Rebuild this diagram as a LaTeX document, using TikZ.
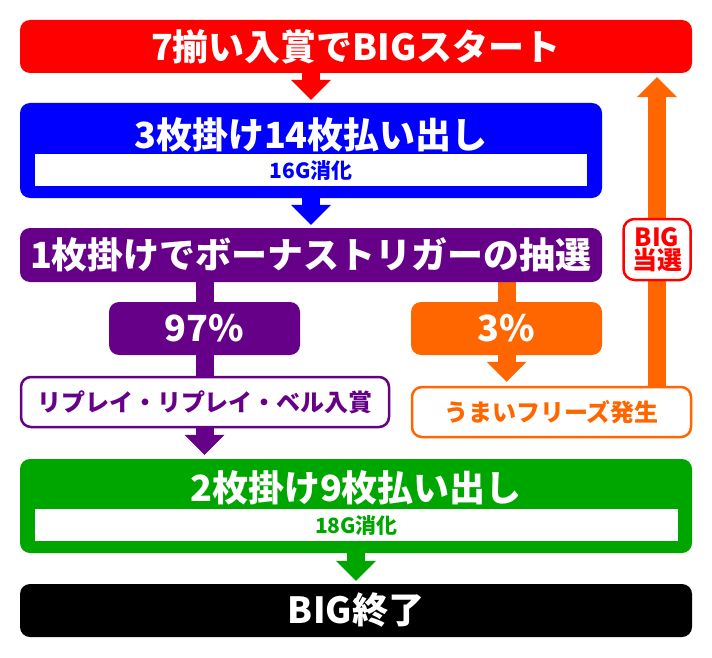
\documentclass[tikz,border=0pt]{standalone}
\usepackage{fontspec}
\setmainfont{Noto Sans CJK JP}
\usetikzlibrary{arrows.meta,backgrounds}
\definecolor{cred}{RGB}{255,0,0}
\definecolor{cblue}{RGB}{0,0,255}
\definecolor{cpurple}{RGB}{102,0,136}
\definecolor{corange}{RGB}{255,102,0}
\definecolor{cgreen}{RGB}{0,166,0}
\begin{document}
\begin{tikzpicture}[x=1pt,y=-1pt,
  box/.style={rounded corners=10pt, inner sep=0pt, text=white,
    font=\bfseries\fontsize{36}{36}\selectfont},
  title/.style={inner sep=0pt, text=white, font=\bfseries\fontsize{36}{36}\selectfont},
  inner/.style={fill=white, inner sep=0pt, font=\bfseries\fontsize{21}{21}\selectfont},
  outl/.style={fill=white, rounded corners=10pt, line width=2.5pt, inner sep=0pt,
    font=\bfseries\fontsize{24}{24}\selectfont},
  fat/.style={line width=18pt, -{Triangle[width=40pt,length=20pt,line width=0pt]}},
  stem/.style={line width=18pt}]
\useasboundingbox (0,0) rectangle (712,658);
% boxes
\node[box, fill=cred, minimum width=672pt, minimum height=53pt] (start) at (356,46.5) {7揃い入賞でBIGスタート};
\node[box, fill=cblue, minimum width=582pt, minimum height=95pt] (blue) at (311,150.5) {};
\node[title] (bluet) at (311,135) {3枚掛け14枚払い出し};
\node[inner, text=cblue, minimum width=552pt, minimum height=32pt] (bluew) at (311,170) {16G消化};
\node[box, fill=cpurple, minimum width=582pt, minimum height=54pt] (lot) at (311,255) {1枚掛けでボーナストリガーの抽選};
\node[box, fill=cpurple, minimum width=191pt, minimum height=53pt] (p97) at (204.5,328.5) {97\%};
\node[box, fill=corange, minimum width=191pt, minimum height=53pt] (p3) at (506.5,328.5) {3\%};
\node[outl, draw=cpurple, text=cpurple, minimum width=368pt, minimum height=50pt] (reply) at (205,402) {リプレイ・リプレイ・ベル入賞};
\node[outl, draw=corange, text=corange, minimum width=279pt, minimum height=50pt] (umai) at (551.5,412) {うまいフリーズ発生};
\node[outl, draw=cred, text=cred, rounded corners=11pt, minimum width=67pt, minimum height=61pt,
  align=center, font=\bfseries\fontsize{25}{23}\selectfont] (hit) at (657,249.5) {BIG\\当選};
\node[box, fill=cgreen, minimum width=672pt, minimum height=94pt] (green) at (356,506) {};
\node[title] (greent) at (356,488) {2枚掛け9枚払い出し};
\node[inner, text=cgreen, minimum width=643pt, minimum height=32pt] (greenw) at (356.5,525) {18G消化};
\node[box, fill=black, minimum width=672pt, minimum height=53pt] (end) at (356,610.5) {BIG終了};
% connectors
\begin{scope}[on background layer]
\draw[fat, cred, shorten >=3pt] (start.south -| blue.center) -- (blue.north);
\draw[fat, cblue, shorten >=3pt] (blue.south) -- (lot.north);
\draw[stem, cpurple] (lot.south -| p97.center) -- (reply.north -| p97.center);
\draw[fat, cpurple, shorten >=4pt] (reply.south -| p97.center) -- (green.north -| p97.center);
\draw[fat, corange, shorten >=4pt] (lot.south -| p3.center) -- (umai.north -| p3.center);
\draw[fat, corange, shorten >=4pt] (umai.north -| hit.center) -- (start.south -| hit.center);
\draw[fat, cgreen, shorten >=3pt] (green.south) -- (end.north);
\end{scope}
\end{tikzpicture}
\end{document}
